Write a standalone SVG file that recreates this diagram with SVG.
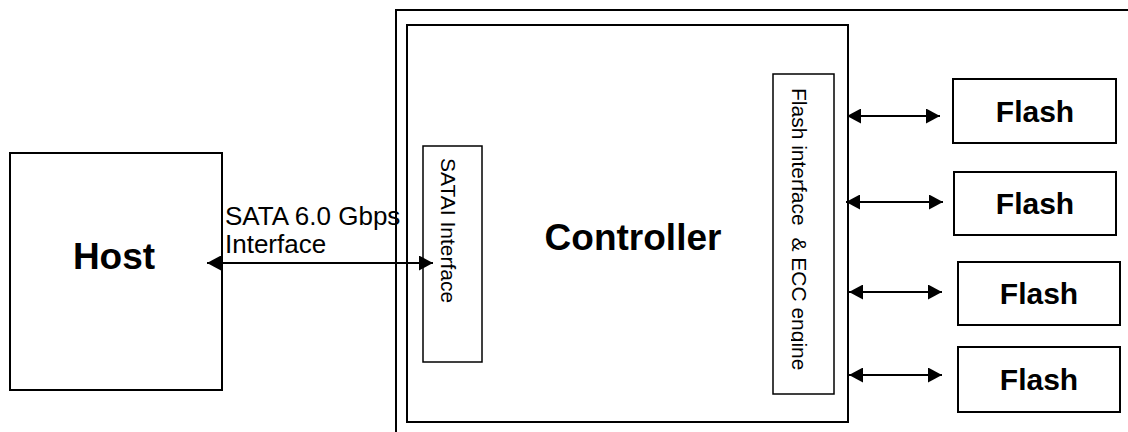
<svg xmlns="http://www.w3.org/2000/svg" width="1128" height="432" viewBox="0 0 1128 432">
<style>
.box{fill:#fff;stroke:#000;stroke-width:2}
.ibox{fill:#fff;stroke:#000;stroke-width:1.5}
.bold{font-family:"Liberation Sans",Arial,sans-serif;font-weight:bold;fill:#000;text-anchor:middle}
.reg{font-family:"Liberation Sans",Arial,sans-serif;fill:#000}
.conn{stroke:#000;stroke-width:2;fill:none}
</style>
<defs>
<marker id="ah" markerUnits="userSpaceOnUse" markerWidth="15" markerHeight="15" refX="14" refY="7.5" orient="auto-start-reverse" viewBox="0 0 15 15">
<path d="M0,0 L14,7.5 L0,15 z" fill="#000"/>
</marker>
<clipPath id="clipFI"><rect x="791" y="70" width="50" height="330"/></clipPath>
</defs>
<g id="outer"><path class="conn" d="M396,432 V10 H1128"/></g>
<g id="controller">
<rect class="box" x="407" y="25" width="441" height="397"/>
<text class="bold" x="633" y="250" font-size="37">Controller</text>
</g>
<g id="host">
<rect class="box" x="10" y="153" width="212" height="237"/>
<text class="bold" x="114" y="269" font-size="37">Host</text>
</g>
<g id="sata-if">
<rect class="ibox" x="423" y="146" width="59" height="216"/>
<text class="reg" font-size="21" transform="translate(441,158) rotate(90)">SATAI Interface</text>
</g>
<g id="flash-if">
<rect class="ibox" x="773" y="74" width="61" height="320"/>
<g clip-path="url(#clipFI)">
<text class="reg" font-size="21" transform="translate(792,88) rotate(90)" xml:space="preserve">Flash interface  &amp; ECC engine</text>
</g>
</g>
<g id="flash1"><rect class="box" x="953" y="79" width="163" height="64"/><text class="bold" x="1035" y="122" font-size="30">Flash</text></g>
<g id="flash2"><rect class="box" x="954" y="172" width="162" height="63"/><text class="bold" x="1035" y="214" font-size="30">Flash</text></g>
<g id="flash3"><rect class="box" x="958" y="262" width="162" height="63"/><text class="bold" x="1039" y="304" font-size="30">Flash</text></g>
<g id="flash4"><rect class="box" x="958" y="347" width="162" height="65"/><text class="bold" x="1039" y="390" font-size="30">Flash</text></g>
<g id="connectors">
<line class="conn" x1="207" y1="263" x2="433" y2="263" marker-start="url(#ah)" marker-end="url(#ah)"/>
<line class="conn" x1="847" y1="116" x2="940" y2="116" marker-start="url(#ah)" marker-end="url(#ah)"/>
<line class="conn" x1="846" y1="202" x2="943" y2="202" marker-start="url(#ah)" marker-end="url(#ah)"/>
<line class="conn" x1="849" y1="292" x2="942" y2="292" marker-start="url(#ah)" marker-end="url(#ah)"/>
<line class="conn" x1="849" y1="375" x2="942" y2="375" marker-start="url(#ah)" marker-end="url(#ah)"/>
</g>
<g id="sata-label">
<text class="reg" x="225" y="225" font-size="26">SATA 6.0 Gbps</text>
<text class="reg" x="225" y="253" font-size="26">Interface</text>
</g>
</svg>
